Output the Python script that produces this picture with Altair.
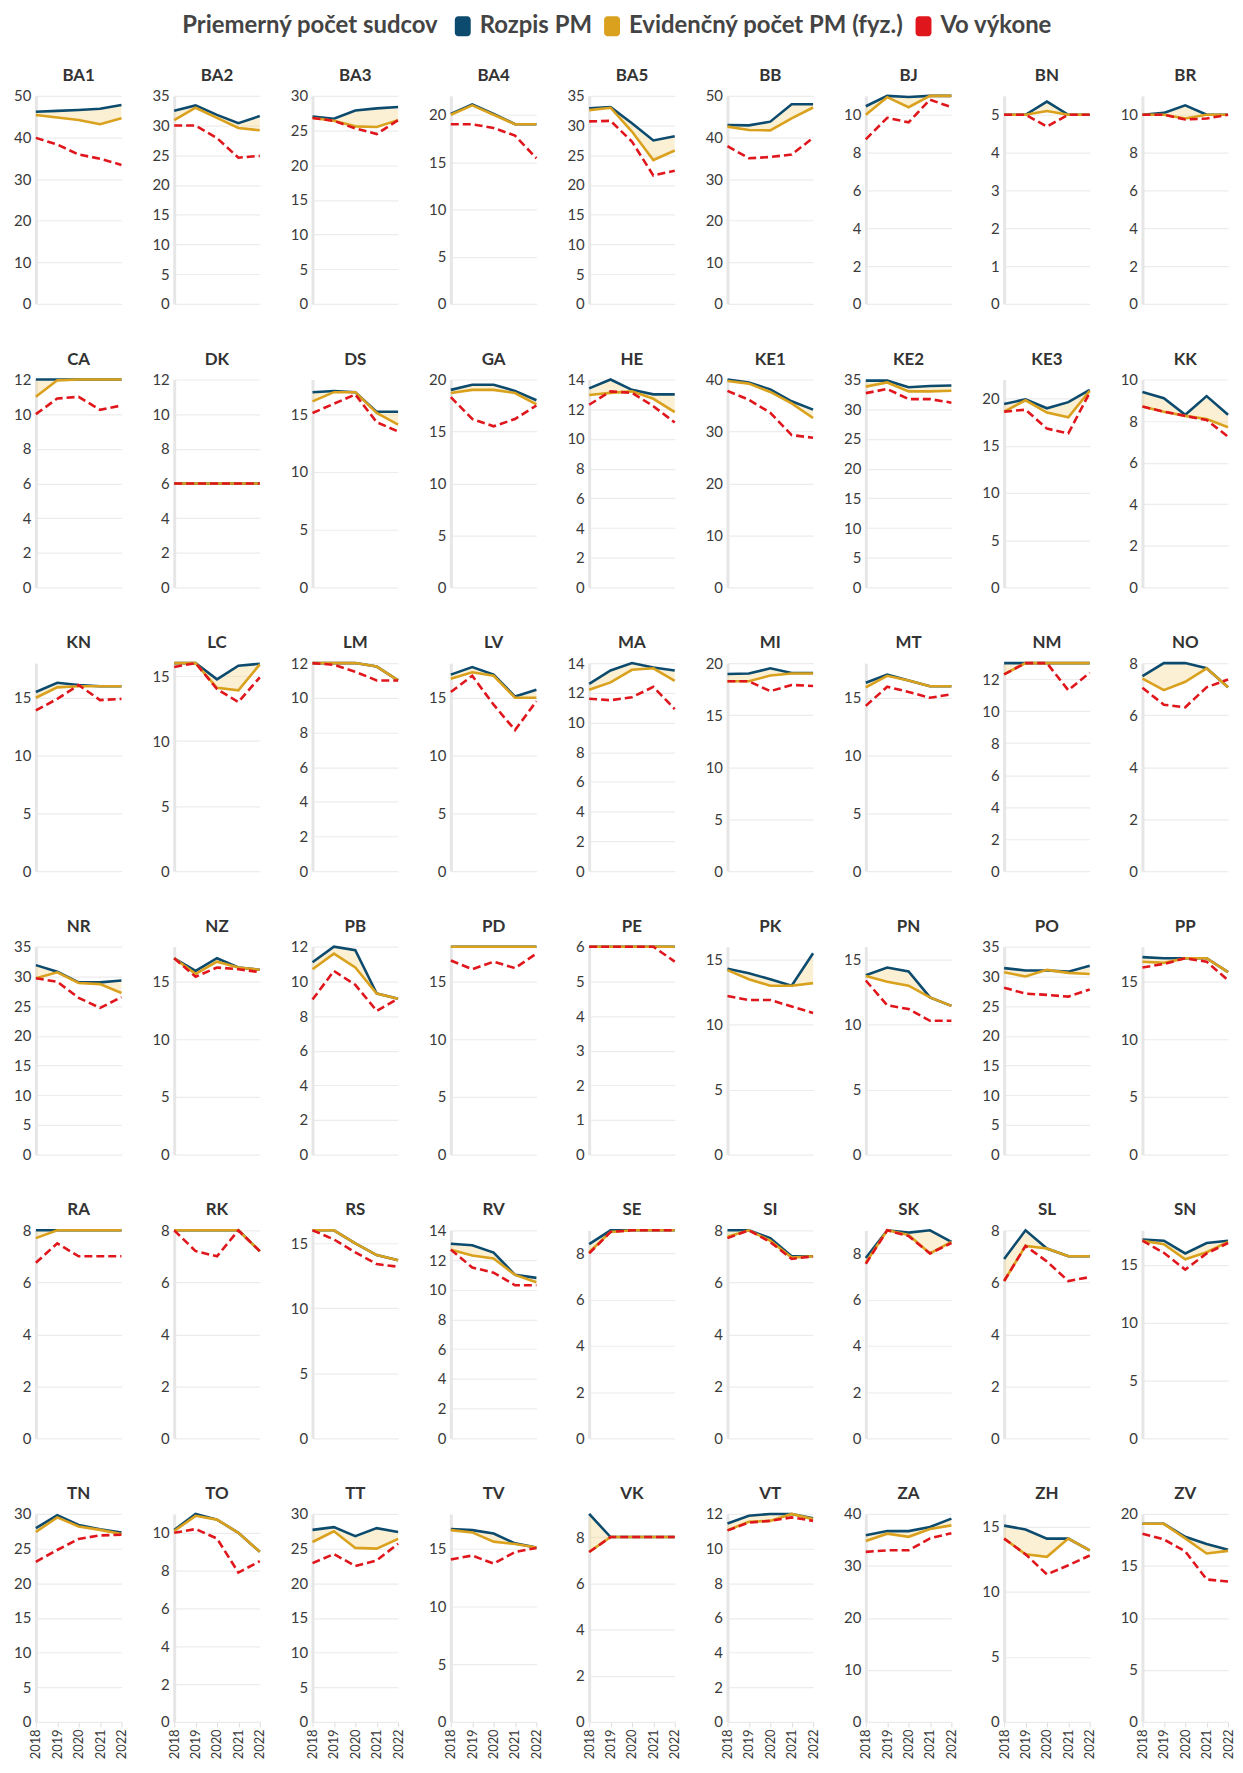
import altair as alt
import pandas as pd

YEARS = [2018, 2019, 2020, 2021, 2022]

COURTS = ["BA1", "BA2", "BA3", "BA4", "BA5", "BB", "BJ", "BN", "BR",
          "CA", "DK", "DS", "GA", "HE", "KE1", "KE2", "KE3", "KK",
          "KN", "LC", "LM", "LV", "MA", "MI", "MT", "NM", "NO",
          "NR", "NZ", "PB", "PD", "PE", "PK", "PN", "PO", "PP",
          "RA", "RK", "RS", "RV", "SE", "SI", "SK", "SL", "SN",
          "TN", "TO", "TT", "TV", "VK", "VT", "ZA", "ZH", "ZV"]

ROZPIS = [
    [46.2, 46.4, 46.6, 46.9, 47.8], [32.5, 33.4, 31.8, 30.4, 31.6], [27.0, 26.7, 27.9, 28.2, 28.4],
    [20.1, 21.1, 20.1, 19.0, 19.0], [32.9, 33.1, 30.4, 27.5, 28.2], [43.0, 42.9, 43.8, 48.0, 48.0],
    [10.45, 11.0, 10.94, 11.0, 11.0], [5.0, 5.0, 5.35, 5.0, 5.0], [10.0, 10.1, 10.5, 10.0, 10.0],
    [12.0, 12.0, 12.0, 12.0, 12.0], [6.0, 6.0, 6.0, 6.0, 6.0], [16.9, 17.0, 16.9, 15.2, 15.2],
    [19.0, 19.5, 19.5, 18.9, 18.0], [13.4, 14.0, 13.3, 13.0, 13.0], [40.0, 39.4, 38.1, 35.8, 34.2],
    [34.8, 34.8, 33.7, 33.9, 34.0], [19.4, 19.9, 18.95, 19.6, 20.9], [9.4, 9.1, 8.3, 9.2, 8.3],
    [15.5, 16.3, 16.1, 16.0, 16.0], [16.0, 16.0, 14.75, 15.8, 15.95], [12.0, 12.0, 12.0, 11.8, 11.0],
    [17.0, 17.65, 17.0, 15.1, 15.7], [12.6, 13.5, 14.0, 13.7, 13.5], [18.95, 19.0, 19.5, 19.05, 19.05],
    [16.3, 17.0, 16.5, 16.0, 16.0], [13.0, 13.0, 13.0, 13.0, 13.0], [7.5, 8.0, 8.0, 7.8, 7.07],
    [31.9, 30.8, 29.0, 29.0, 29.3], [17.0, 15.9, 17.0, 16.2, 16.0], [11.1, 12.0, 11.8, 9.3, 9.0],
    [18.0, 18.0, 18.0, 18.0, 18.0], [6.0, 6.0, 6.0, 6.0, 6.0], [14.3, 13.95, 13.5, 13.0, 15.5],
    [13.8, 14.4, 14.1, 12.1, 11.45], [31.4, 31.0, 31.0, 30.8, 31.8], [17.1, 17.0, 17.0, 17.0, 15.8],
    [8.0, 8.0, 8.0, 8.0, 8.0], [8.0, 8.0, 8.0, 8.0, 7.2], [16.0, 16.0, 15.0, 14.1, 13.7],
    [13.1, 13.0, 12.5, 11.0, 10.8], [8.4, 9.0, 9.0, 9.0, 9.0], [8.0, 8.0, 7.7, 7.0, 7.0],
    [7.8, 9.0, 8.9, 9.0, 8.5], [6.9, 8.0, 7.3, 7.0, 7.0], [17.2, 17.1, 16.0, 16.9, 17.1],
    [27.95, 29.8, 28.4, 27.8, 27.3], [10.15, 11.0, 10.7, 10.0, 9.0], [27.7, 28.1, 26.8, 27.95, 27.4],
    [16.7, 16.6, 16.3, 15.45, 15.1], [9.0, 8.0, 8.0, 8.0, 8.0], [11.45, 11.9, 12.0, 12.0, 11.75],
    [35.9, 36.7, 36.7, 37.5, 39.1], [15.1, 14.8, 14.1, 14.1, 13.2], [19.05, 19.05, 17.8, 17.1, 16.55],
]

EVIDENCNY = [
    [45.4, 44.8, 44.2, 43.2, 44.6], [30.9, 33.0, 31.3, 29.6, 29.2], [26.8, 26.4, 25.6, 25.5, 26.5],
    [20.0, 21.0, 20.0, 19.0, 19.0], [32.6, 33.0, 29.0, 24.2, 25.8], [42.6, 41.8, 41.7, 44.6, 47.2],
    [10.0, 10.93, 10.4, 11.0, 11.0], [5.0, 5.0, 5.1, 5.0, 5.0], [10.0, 10.0, 9.8, 10.0, 10.0],
    [11.0, 11.95, 12.0, 12.0, 12.0], [6.0, 6.0, 6.0, 6.0, 6.0], [16.1, 16.9, 16.9, 15.1, 14.1],
    [18.7, 19.0, 19.0, 18.7, 17.6], [12.95, 13.1, 13.2, 12.7, 11.8], [39.7, 39.2, 37.6, 35.4, 32.6],
    [33.8, 34.5, 33.0, 33.0, 33.1], [18.6, 19.8, 18.5, 18.0, 20.8], [8.7, 8.45, 8.25, 8.1, 7.7],
    [15.0, 15.9, 16.0, 16.0, 16.0], [16.0, 16.0, 14.1, 13.9, 15.9], [12.0, 12.0, 12.0, 11.8, 11.0],
    [16.65, 17.2, 16.9, 15.0, 15.0], [12.2, 12.7, 13.55, 13.65, 12.8], [18.25, 18.25, 18.8, 19.0, 19.0],
    [15.9, 16.9, 16.5, 16.0, 16.0], [12.3, 13.0, 13.0, 13.0, 13.0], [7.4, 6.96, 7.28, 7.8, 7.07],
    [29.7, 30.7, 28.9, 28.7, 27.2], [17.0, 15.65, 16.7, 16.2, 16.0], [10.7, 11.6, 10.8, 9.3, 9.0],
    [18.0, 18.0, 18.0, 18.0, 18.0], [6.0, 6.0, 6.0, 6.0, 6.0], [14.2, 13.5, 13.0, 13.0, 13.2],
    [13.75, 13.3, 13.0, 12.1, 11.45], [30.7, 30.0, 31.1, 30.6, 30.4], [16.7, 16.6, 17.0, 17.0, 15.8],
    [7.7, 8.0, 8.0, 8.0, 8.0], [8.0, 8.0, 8.0, 8.0, 7.2], [16.0, 16.0, 15.0, 14.1, 13.7],
    [12.7, 12.3, 12.1, 11.0, 10.5], [8.05, 8.93, 9.0, 9.0, 9.0], [7.75, 8.0, 7.6, 6.95, 7.0],
    [7.6, 9.0, 8.8, 8.0, 8.5], [6.05, 7.4, 7.3, 7.0, 7.0], [17.1, 16.8, 15.5, 16.1, 17.0],
    [27.4, 29.5, 28.2, 27.7, 27.1], [10.1, 10.9, 10.7, 10.0, 9.0], [25.95, 27.5, 25.1, 25.0, 26.4],
    [16.6, 16.4, 15.6, 15.4, 15.1], [7.35, 8.0, 8.0, 8.0, 8.0], [11.05, 11.55, 11.6, 12.0, 11.7],
    [34.8, 36.2, 35.6, 37.1, 37.8], [14.1, 12.9, 12.7, 14.1, 13.2], [19.05, 19.05, 17.65, 16.2, 16.45],
]

VO_VYKONE = [
    [39.9, 38.3, 35.9, 34.9, 33.4], [30.0, 30.0, 27.9, 24.6, 24.9], [26.8, 26.4, 25.3, 24.5, 26.5],
    [19.0, 19.0, 18.6, 17.8, 15.4], [30.7, 30.8, 27.3, 21.6, 22.4], [37.9, 35.0, 35.3, 35.9, 39.9],
    [8.7, 9.84, 9.6, 10.8, 10.4], [5.0, 5.0, 4.69, 5.0, 5.0], [10.0, 10.0, 9.75, 9.8, 10.0],
    [10.0, 10.9, 11.0, 10.25, 10.5], [6.0, 6.0, 6.0, 6.0, 6.0], [15.1, 15.9, 16.7, 14.3, 13.5],
    [18.3, 16.2, 15.5, 16.2, 17.5], [12.3, 13.2, 13.1, 12.2, 11.1], [37.8, 36.1, 33.6, 29.3, 28.8],
    [32.7, 33.4, 31.7, 31.7, 31.1], [18.6, 18.8, 16.8, 16.3, 20.6], [8.7, 8.45, 8.25, 8.05, 7.25],
    [13.9, 14.9, 16.1, 14.8, 14.9], [15.7, 16.0, 14.0, 13.0, 14.9], [12.0, 11.9, 11.5, 11.0, 11.0],
    [15.5, 16.9, 14.4, 12.2, 14.7], [11.6, 11.5, 11.7, 12.4, 10.9], [18.25, 18.25, 17.3, 17.9, 17.8],
    [14.3, 15.95, 15.5, 15.0, 15.3], [12.3, 13.0, 13.0, 11.3, 12.4], [7.05, 6.4, 6.3, 7.07, 7.37],
    [29.7, 29.1, 26.4, 24.7, 26.5], [17.0, 15.4, 16.2, 16.05, 15.8], [8.95, 10.6, 9.8, 8.3, 9.0],
    [16.8, 16.05, 16.7, 16.15, 17.4], [6.0, 6.0, 6.0, 6.0, 5.57], [12.2, 11.9, 11.9, 11.4, 10.9],
    [13.4, 11.5, 11.2, 10.3, 10.3], [28.1, 27.1, 26.9, 26.6, 27.8], [16.2, 16.5, 17.0, 16.7, 15.1],
    [6.75, 7.5, 7.0, 7.0, 7.0], [8.0, 7.2, 7.0, 8.0, 7.2], [16.0, 15.3, 14.3, 13.4, 13.2],
    [12.7, 11.5, 11.15, 10.3, 10.3], [8.0, 8.93, 9.0, 9.0, 9.0], [7.7, 8.0, 7.55, 6.9, 7.0],
    [7.55, 9.0, 8.75, 8.0, 8.45], [6.05, 7.4, 6.8, 6.05, 6.2], [17.1, 16.05, 14.6, 16.0, 16.9],
    [23.1, 24.8, 26.4, 26.9, 27.0], [10.0, 10.2, 9.7, 7.9, 8.5], [22.9, 24.2, 22.5, 23.3, 25.7],
    [14.05, 14.4, 13.7, 14.7, 15.05], [7.35, 8.0, 8.0, 8.0, 8.0], [11.05, 11.5, 11.6, 11.8, 11.6],
    [32.7, 33.0, 33.0, 35.3, 36.3], [14.1, 12.9, 11.35, 12.05, 12.8], [18.1, 17.55, 16.4, 13.7, 13.5],
]

# y-axis top used by the original for DK (its axis runs to 12)
AXIS_TOP = {"DK": 12}

SERIES = ["Rozpis PM", "Evidenčný počet PM (fyz.)", "Vo výkone"]
COLORS = ["#0d4b6e", "#d9a11d", "#e0161d"]
FONT = "Lato"
W, H = 86, 209

rows = []
for i, court in enumerate(COURTS):
    for j, yr in enumerate(YEARS):
        for s, arr in zip(SERIES, [ROZPIS, EVIDENCNY, VO_VYKONE]):
            rows.append({"court": court, "year": yr, "series": s, "value": arr[i][j],
                         "r": ROZPIS[i][j], "e": EVIDENCNY[i][j],
                         "top": AXIS_TOP.get(court)})
df = pd.DataFrame(rows)

x = alt.X("year:O", scale=alt.Scale(padding=0), title=None)
y = alt.Y("value:Q", scale=alt.Scale(zero=True), title=None, axis=alt.Axis(tickCount=5))

base = alt.Chart()

area = base.transform_filter(alt.datum.series == SERIES[0]).mark_area(
    color="#f4d88f", opacity=0.38
).encode(x=x, y=alt.Y("r:Q", title=None), y2="e:Q")

line_r = base.transform_filter(alt.datum.series == SERIES[0]).mark_line(
    color=COLORS[0], strokeWidth=2.6
).encode(x=x, y=y)
line_e = base.transform_filter(alt.datum.series == SERIES[1]).mark_line(
    color=COLORS[1], strokeWidth=2.6
).encode(x=x, y=y)
line_v = base.transform_filter(alt.datum.series == SERIES[2]).mark_line(
    color=COLORS[2], strokeWidth=2.6, strokeDash=[8, 4]
).encode(x=x, y=y)

rounded = ("M-0.45,-1H0.45A0.35,0.35 0 0 1 0.8,-0.65V0.65A0.35,0.35 0 0 1 0.45,1"
           "H-0.45A0.35,0.35 0 0 1 -0.8,0.65V-0.65A0.35,0.35 0 0 1 -0.45,-1Z")

legend_pts = base.mark_point(filled=True, opacity=0, size=1).encode(
    x=x, y=y,
    fill=alt.Fill("series:N", scale=alt.Scale(domain=SERIES, range=COLORS),
                  legend=alt.Legend(
                      title="Priemerný počet sudcov", orient="none",
                      legendX=147, legendY=-82, direction="horizontal",
                      titleOrient="left", symbolType=rounded, symbolSize=400,
                      symbolOpacity=1, symbolStrokeWidth=0,
                  )),
)

top_pts = base.mark_point(opacity=0).encode(x=x, y=alt.Y("top:Q", title=None))

titles = base.transform_filter(
    (alt.datum.series == SERIES[0]) & (alt.datum.year == 2018)
).mark_text(font=FONT, fontSize=17, fontWeight="bold", color="#333333", baseline="alphabetic",
            align="center").encode(text="court:N", x=alt.value(W / 2), y=alt.value(-15))

layered = alt.layer(area, line_r, line_e, line_v, legend_pts, top_pts, titles, data=df).properties(
    width=W, height=H
)

chart = layered.facet(
    facet=alt.Facet("court:N", sort=COURTS, title=None,
                    header=alt.Header(labelExpr="''", labelFontSize=1, labelPadding=0)),
    columns=9,
    spacing={"row": 76, "column": 53},
    bounds="flush",
).resolve_scale(y="independent").properties(
    padding={"left": 5, "top": 2, "right": 0, "bottom": 0}
).configure_view(stroke=None).configure_axisY(
    domainColor="#e6e6e6", domainWidth=3, ticks=False, labelPadding=5,
    gridColor="#ececec", gridWidth=1.2, labelFontSize=15, labelFont=FONT, labelColor="#3a3a3a",
).configure_axisX(
    grid=False, domain=False, tickColor="#dddddd", tickSize=5, labelFontSize=13,
    labelFont=FONT, labelColor="#3a3a3a", labelAngle=270, labelPadding=2,
).configure_legend(
    titleFont=FONT, titleFontSize=24, titleFontWeight="bold", titleColor="#444444",
    labelFont=FONT, labelFontSize=24, labelFontWeight="bold", labelColor="#444444",
    titlePadding=12, labelOffset=5, columnPadding=8, labelLimit=400, titleLimit=400,
)

chart.save("out.html", embed_options={"renderer": "svg", "actions": False})
